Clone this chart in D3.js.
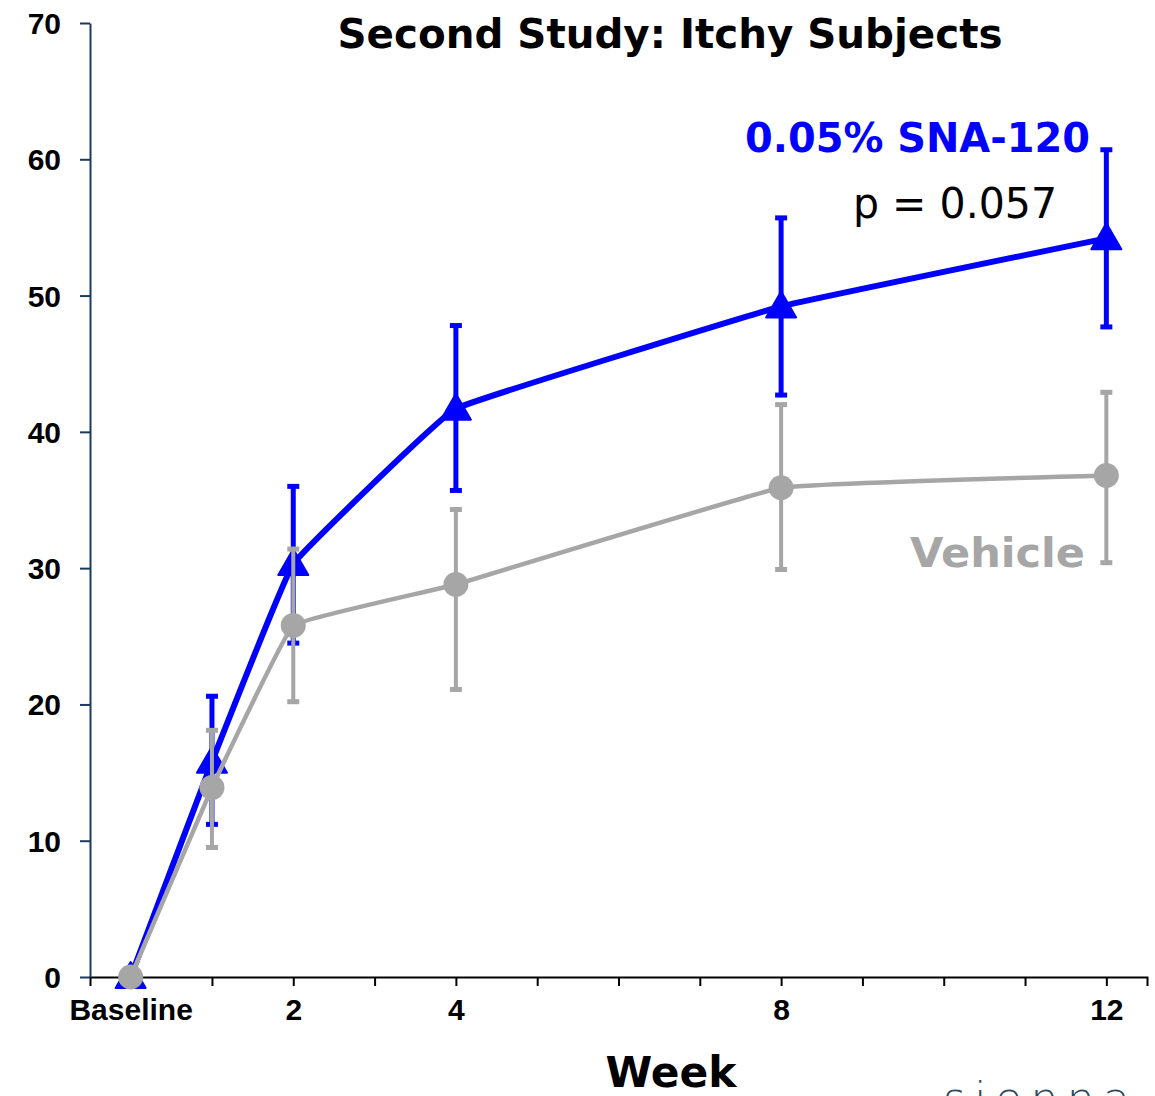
<!DOCTYPE html>
<html>
<head>
<meta charset="utf-8">
<script src="https://cdn.jsdelivr.net/npm/d3@7"></script>
<style>
  html, body { margin: 0; padding: 0; background: #fff; }
  svg { display: block; }
  .axis text { font-family: "Liberation Sans", Arial, sans-serif; font-weight: bold; font-size: 30px; fill: #000; }
</style>
</head>
<body>
<svg id="chart" width="1155" height="1096"></svg>
<script>
// weeks (0 = Baseline)
const weeks = [0, 1, 2, 4, 8, 12];
const xTickLabels = { 0: "Baseline", 2: "2", 4: "4", 8: "8", 12: "12" };
const yTicks = [0, 10, 20, 30, 40, 50, 60, 70];

// 0.05% SNA-120
const snaMean = [0, 15.8, 30.3, 41.7, 49.2, 54.2];
const snaHigh = [0, 20.6, 36.0, 47.8, 55.7, 60.7];
const snaLow = [0, 11.2, 24.5, 35.7, 42.7, 47.7];

// Vehicle
const vehMean = [0, 13.9, 25.8, 28.8, 35.9, 36.8];
const vehHigh = [0, 18.1, 31.4, 34.3, 42.0, 42.9];
const vehLow = [0, 9.5, 20.2, 21.1, 29.9, 30.4];

const svg = d3.select("#chart");

const x = d3.scaleLinear().domain([-0.5, 12.5]).range([90, 1147]);
const y = d3.scaleLinear().domain([0, 70]).range([977, 23]);

// axes
const xAxis = d3.axisBottom(x)
  .tickValues(d3.range(0, 13))
  .tickSize(9)
  .tickSizeOuter(9)
  .tickFormat(d => xTickLabels[d] || "");

const gx = svg.append("g")
  .attr("class", "axis")
  .attr("transform", `translate(0,${y(0)})`)
  .call(xAxis);
gx.attr("font-size", null).attr("font-family", null);
gx.select(".domain").attr("stroke", "#000").attr("stroke-width", 2);
gx.selectAll(".tick line").attr("stroke", "#000").attr("stroke-width", 2);
gx.selectAll(".tick text").attr("dy", "0.71em").attr("y", 22);

const yAxis = d3.axisLeft(y)
  .tickValues(yTicks)
  .tickSize(10)
  .tickSizeOuter(0);

const gy = svg.append("g")
  .attr("class", "axis")
  .attr("transform", `translate(${x(-0.5)},0)`)
  .call(yAxis);
gy.attr("font-size", null).attr("font-family", null);
gy.select(".domain").attr("stroke", "#1b3a5c").attr("stroke-width", 2);
gy.selectAll(".tick line").attr("stroke", "#1b3a5c").attr("stroke-width", 2);
gy.selectAll(".tick text").attr("x", -29).attr("dy", "0.35em");

// series drawing
const line = d3.line()
  .x(d => x(d.w))
  .y(d => y(d.v))
  .curve(d3.curveCardinal.tension(0.8));

function drawSeries(mean, high, low, color, lw, ew, marker) {
  const pts = weeks.map((w, i) => ({ w, v: mean[i], hi: high[i], lo: low[i] }));
  const g = svg.append("g");

  const bars = pts.filter(d => d.hi !== d.lo);
  g.selectAll(".err").data(bars).join("line")
    .attr("x1", d => x(d.w)).attr("x2", d => x(d.w))
    .attr("y1", d => y(d.hi)).attr("y2", d => y(d.lo))
    .attr("stroke", color).attr("stroke-width", ew);
  g.selectAll(".capT").data(bars).join("line")
    .attr("x1", d => x(d.w) - 6).attr("x2", d => x(d.w) + 6)
    .attr("y1", d => y(d.hi)).attr("y2", d => y(d.hi))
    .attr("stroke", color).attr("stroke-width", 5);
  g.selectAll(".capB").data(bars).join("line")
    .attr("x1", d => x(d.w) - 6).attr("x2", d => x(d.w) + 6)
    .attr("y1", d => y(d.lo)).attr("y2", d => y(d.lo))
    .attr("stroke", color).attr("stroke-width", 5);

  g.append("path")
    .datum(pts)
    .attr("fill", "none")
    .attr("stroke", color)
    .attr("stroke-width", lw)
    .attr("d", line);

  if (marker === "triangle") {
    g.selectAll(".mk").data(pts).join("path")
      .attr("transform", d => `translate(${x(d.w)},${y(d.v)})`)
      .attr("d", "M0,-15 L15,11 L-15,11 Z")
      .attr("fill", color)
      .attr("stroke", color)
      .attr("stroke-width", 2)
      .attr("stroke-linejoin", "round");
  } else {
    g.selectAll(".mk").data(pts).join("circle")
      .attr("cx", d => x(d.w)).attr("cy", d => y(d.v))
      .attr("r", 12.5)
      .attr("fill", color);
  }
}

drawSeries(snaMean, snaHigh, snaLow, "#0000ff", 6, 5, "triangle");
drawSeries(vehMean, vehHigh, vehLow, "#a6a6a6", 4.5, 4, "circle");

// title
svg.append("text")
  .attr("x", 670).attr("y", 48)
  .attr("text-anchor", "middle")
  .style("font-family", "'DejaVu Sans', sans-serif")
  .style("font-weight", "bold")
  .style("font-size", "40px")
  .attr("textLength", 665)
  .attr("lengthAdjust", "spacingAndGlyphs")
  .text("Second Study: Itchy Subjects");

// axis title
svg.append("text")
  .attr("x", 671).attr("y", 1087)
  .attr("text-anchor", "middle")
  .style("font-family", "'DejaVu Sans', sans-serif")
  .style("font-weight", "bold")
  .style("font-size", "42px")
  .attr("textLength", 131)
  .attr("lengthAdjust", "spacingAndGlyphs")
  .text("Week");

// series labels
svg.append("text")
  .attr("x", 745).attr("y", 152)
  .style("font-family", "'DejaVu Sans', sans-serif")
  .style("font-weight", "bold")
  .style("font-size", "40px")
  .attr("fill", "#0000ff")
  .attr("textLength", 345)
  .attr("lengthAdjust", "spacingAndGlyphs")
  .text("0.05% SNA-120");

svg.append("text")
  .attr("x", 853).attr("y", 218)
  .style("font-family", "'DejaVu Sans', sans-serif")
  .style("font-size", "42px")
  .attr("fill", "#000")
  .attr("textLength", 204)
  .attr("lengthAdjust", "spacingAndGlyphs")
  .text("p = 0.057");

svg.append("text")
  .attr("x", 910).attr("y", 567)
  .style("font-family", "'DejaVu Sans', sans-serif")
  .style("font-weight", "bold")
  .style("font-size", "40px")
  .attr("fill", "#a6a6a6")
  .attr("textLength", 175)
  .attr("lengthAdjust", "spacingAndGlyphs")
  .text("Vehicle");

// logo, cut off at bottom edge as in the source slide
svg.append("text")
  .attr("x", 943).attr("y", 1114)
  .style("font-family", "'DejaVu Sans', sans-serif")
  .style("font-weight", "300")
  .style("font-size", "44px")
  .attr("fill", "#2b4a60")
  .attr("textLength", 187)
  .attr("lengthAdjust", "spacing")
  .text("sienna");
</script>
</body>
</html>
